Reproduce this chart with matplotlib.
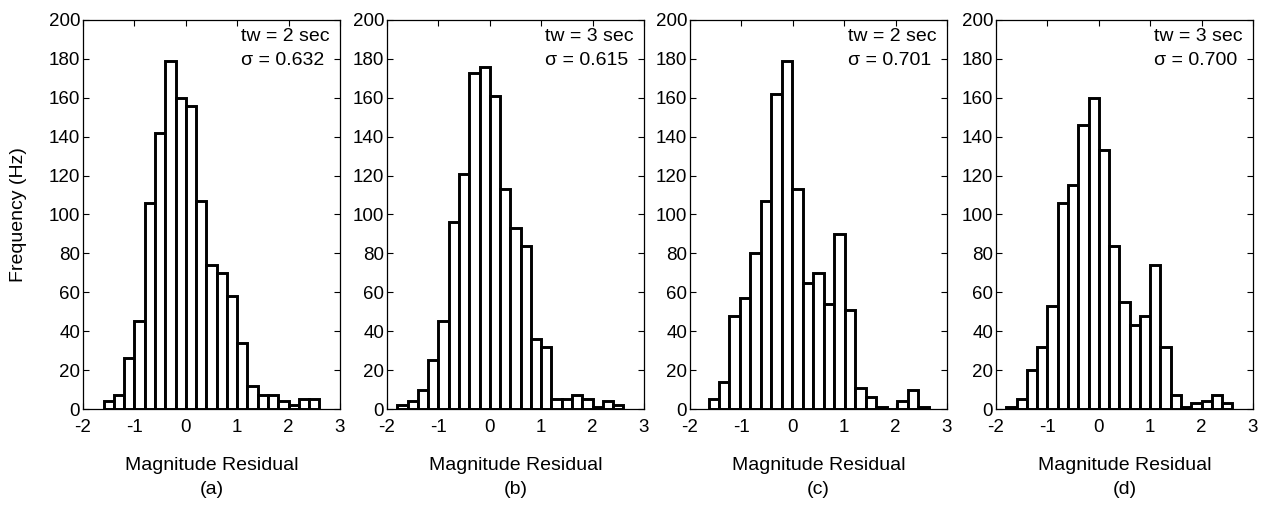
import numpy as np
import matplotlib
matplotlib.use("Agg")
import matplotlib.pyplot as plt

plt.rcParams['font.family'] = ['Liberation Sans', 'DejaVu Sans']
plt.rcParams['axes.unicode_minus'] = False

# ---- data ----
panel_labels = ["(a)", "(b)", "(c)", "(d)"]
tw_labels = ["tw = 2 sec", "tw = 3 sec", "tw = 2 sec", "tw = 3 sec"]
sigma_labels = ["\u03c3 = 0.632", "\u03c3 = 0.615", "\u03c3 = 0.701", "\u03c3 = 0.700"]

bin_start = [-1.6, -1.8, -1.64, -1.8]
bin_width = [0.2, 0.2, 0.204, 0.2]

counts_a = [4, 7, 26, 45, 106, 142, 179, 160, 156, 107, 74, 70, 58, 34, 12, 7, 7, 4, 2, 5, 5]
counts_b = [2, 4, 10, 25, 45, 96, 121, 173, 176, 161, 113, 93, 84, 36, 32, 5, 5, 7, 5, 1, 4, 2]
counts_c = [5, 14, 48, 57, 80, 107, 162, 179, 113, 65, 70, 54, 90, 51, 11, 6, 1, 0, 4, 10, 1]
counts_d = [1, 5, 20, 32, 53, 106, 115, 146, 160, 133, 84, 55, 43, 48, 74, 32, 7, 1, 3, 4, 7, 3]
all_counts = [counts_a, counts_b, counts_c, counts_d]

x_ticks = [-2, -1, 0, 1, 2, 3]
y_ticks = [0, 20, 40, 60, 80, 100, 120, 140, 160, 180, 200]

xlabel = "Magnitude Residual"
ylabel = "Frequency (Hz)"

# ---- figure ----
W, H = 1271, 511
fig = plt.figure(figsize=(W / 100, H / 100), dpi=100)

ax_left_px = [83, 387, 690, 996]
ax_width_px = 257
ax_top_px, ax_bottom_px = 20, 409

FS = 13.5
for i in range(4):
    ax = fig.add_axes([ax_left_px[i] / W, (H - ax_bottom_px) / H,
                       ax_width_px / W, (ax_bottom_px - ax_top_px) / H])
    c = all_counts[i]
    lefts = bin_start[i] + bin_width[i] * np.arange(len(c))
    ax.bar(lefts, c, width=bin_width[i], align='edge', facecolor='white',
           edgecolor='black', linewidth=2.1, zorder=2)
    ax.set_xlim(-2, 3)
    ax.set_ylim(0, 200)
    ax.set_xticks(x_ticks)
    ax.set_yticks(y_ticks)
    ax.tick_params(direction='in', top=True, right=True, length=4, width=0.8,
                   labelsize=FS, colors='black')
    ax.tick_params(axis='x', pad=7)
    ax.tick_params(axis='y', pad=2)
    for s in ax.spines.values():
        s.set_linewidth(0.9)
    ax.text(1.07, 191.5, tw_labels[i], fontsize=14, ha='left', va='center')
    ax.text(1.07, 179.0, sigma_labels[i], fontsize=14, ha='left', va='center')
    ax.set_xlabel(xlabel, fontsize=14, labelpad=15)
    xc = (ax_left_px[i] + ax_width_px / 2) / W
    fig.text(xc, 1 - 490 / H, panel_labels[i], fontsize=14, ha='center', va='center')
    if i == 0:
        ax.set_ylabel(ylabel, fontsize=14, labelpad=16)

fig.savefig("out.png", dpi=100)
